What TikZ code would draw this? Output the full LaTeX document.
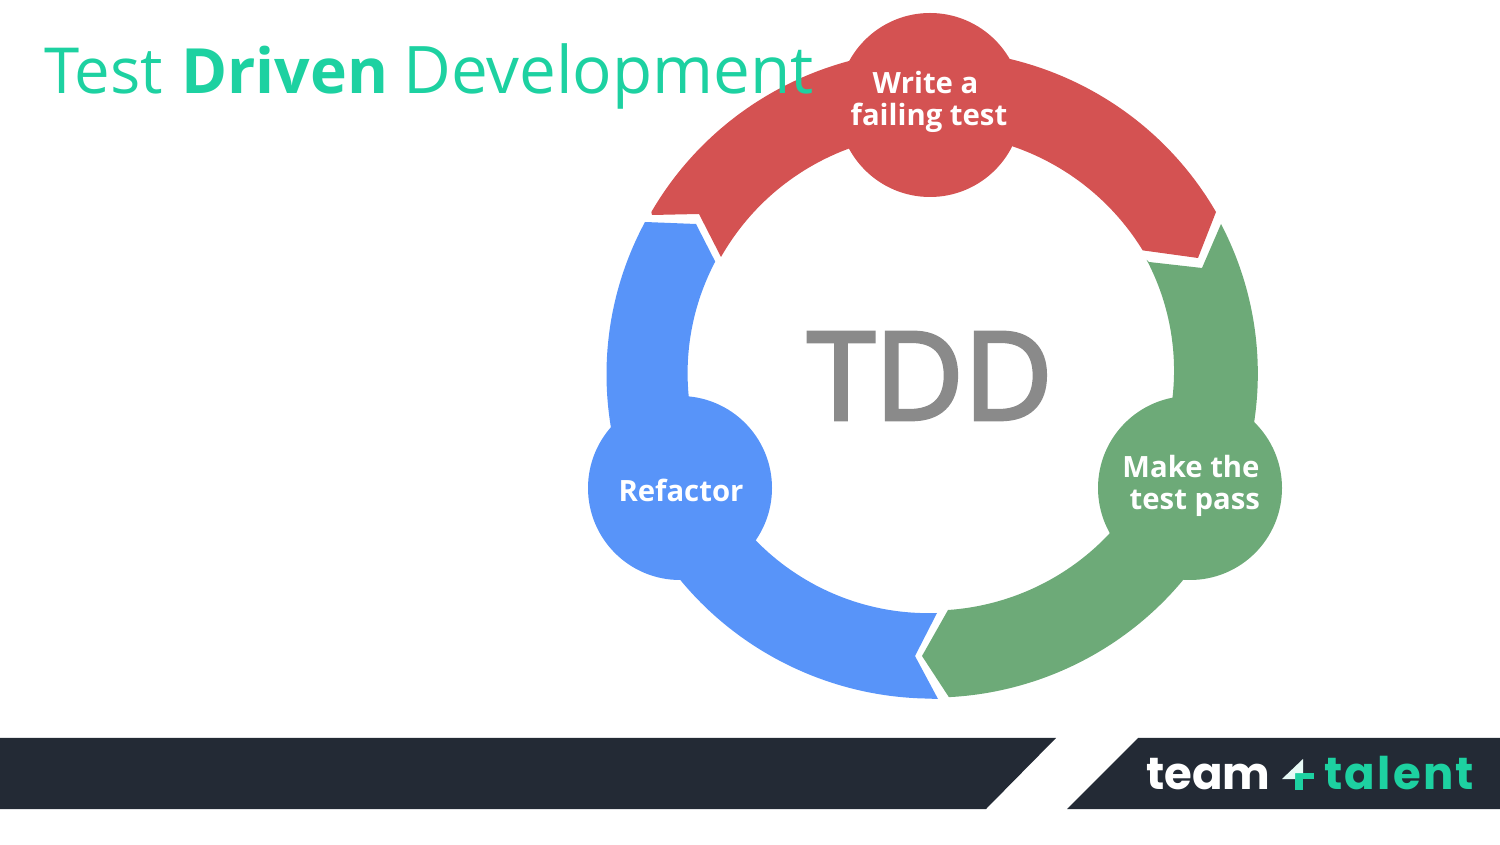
\documentclass[tikz,border=0pt]{standalone}
\usepackage{fontspec}
\setmainfont{Open Sans}
\newfontfamily\logofont{Poppins}
\definecolor{segred}{HTML}{D45252}
\definecolor{seggreen}{HTML}{6DAA78}
\definecolor{segblue}{HTML}{5894F9}
\definecolor{bardark}{HTML}{232A35}
\definecolor{teal}{HTML}{1DD1A1}
\definecolor{tddgray}{HTML}{8A8A8A}
\tikzset{
  hub/.style={circle,minimum size=184pt,inner sep=0pt},
  hublabel/.style={text=white,font=\fontsize{29.3}{33}\selectfont\bfseries,align=center,inner sep=0pt},
  logotext/.style={font=\logofont\fontsize{45}{45}\selectfont\bfseries,inner sep=0pt,anchor=base west},
  titletext/.style={inner sep=0pt,anchor=base west,text=teal},
}
\begin{document}
\begin{tikzpicture}[x=1pt,y=1pt]
\useasboundingbox (0,0) rectangle (1500,844);
% footer
\fill[bardark] (0,106) -- (1056,106) -- (986,35) -- (0,35) -- cycle;
\fill[bardark] (1138,106) -- (1500,106) -- (1500,35) -- (1067,35) -- cycle;
% red segment
\fill[segred] (652,629) -- (699,630) -- (721,587)
  arc[start angle=150.3,end angle=31.5,x radius=245pt,y radius=245pt]
  -- (1198,586) -- (1216,632)
  arc[start angle=30,end angle=150,x radius=326pt,y radius=324pt] -- cycle;
% green segment
\fill[seggreen] (1149,582) -- (1202,576) -- (1221,620)
  arc[start angle=27.5,end angle=-87,x radius=326pt,y radius=324pt]
  -- (922,188) -- (948,234)
  arc[start angle=-86,end angle=27.5,x radius=243pt,y radius=240pt] -- cycle;
% blue segment
\fill[segblue] (938,145) -- (915,188) -- (937,231)
  arc[start angle=-88,end angle=-207.7,x radius=241pt,y radius=240pt]
  -- (696,620) -- (645,622)
  arc[start angle=151.9,end angle=269,x radius=326pt,y radius=324pt] -- cycle;
% hubs
\node[hub,fill=segred] (write) at (930,739) {};
\node[hub,fill=seggreen] (make) at (1190,356) {};
\node[hub,fill=segblue] (refactor) at (680,356) {};
\node[hublabel,anchor=center] (writeL) at (929,742) {Write a\rule{7pt}{0pt}\\[-1pt]failing test};
\node[hublabel,anchor=center] (makeL) at (1191,358) {Make the\\[-1pt]\ test pass};
\node[hublabel,anchor=center] (refactorL) at (681,354) {Refactor};
% centre
\node[inner sep=0pt,text=tddgray,font=\fontsize{122}{122}\selectfont\addfontfeature{FakeBold=3}] (tdd) at (930,468) {TDD};
% title
\node[titletext,font=\fontsize{63.5}{66}\selectfont] (title1) at (44,750) {Test};
\node[titletext,font=\fontsize{62.4}{66}\selectfont\bfseries] (title2) at (181,750) {Driven};
\node[titletext,font=\fontsize{65.6}{66}\selectfont] (title3) at (403,750) {Development};
% logo
\node[logotext,text=white] (team) at (1146,55) {team};
\node[logotext,text=teal,font=\logofont\fontsize{45}{45}\selectfont\bfseries\addfontfeature{LetterSpace=5}] (talent) at (1324,55) {talent};
\fill[teal] (1295,71) rectangle (1303,54);
\fill[teal] (1295,71) rectangle (1314,65);
\fill[white!90!teal] (1282,65) -- (1303,85) -- (1303,71) -- (1295,71) -- (1295,65) -- cycle;
\end{tikzpicture}
\end{document}
